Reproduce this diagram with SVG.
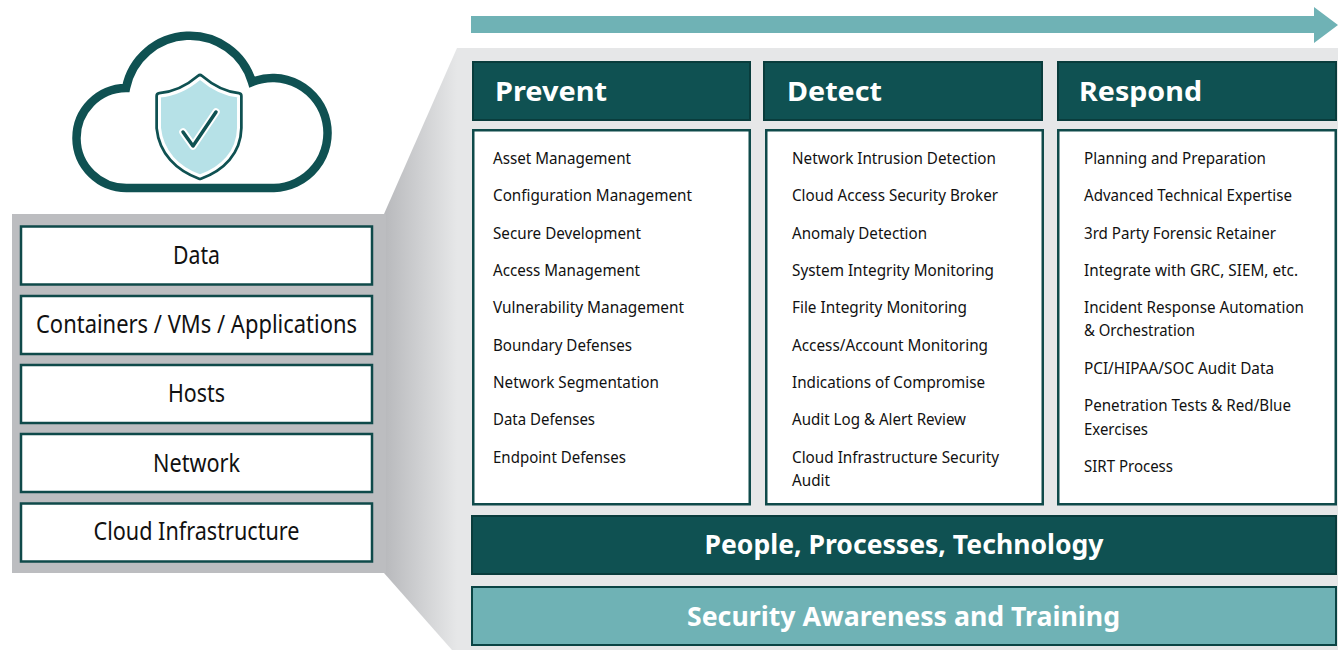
<svg xmlns="http://www.w3.org/2000/svg" width="1338" height="650" viewBox="0 0 1338 650">
<defs>
<linearGradient id="funnel" x1="386" y1="0" x2="457" y2="0" gradientUnits="userSpaceOnUse">
<stop offset="0" stop-color="#b9babd"/>
<stop offset="1" stop-color="#e6e7e8"/>
</linearGradient>
<style>
.dark{fill:#0f5152;stroke:#093c3c;stroke-width:2}
.teal{fill:#6fb2b5;stroke:#0a4444;stroke-width:2}
.box{fill:#ffffff;stroke:#0f4a4a;stroke-width:2.5}
.hdr{font-family:"Noto Sans","Open Sans","Liberation Sans",sans-serif;font-weight:bold;font-size:27px;fill:#ffffff}
.item{font-family:"Noto Sans","Open Sans","Liberation Sans",sans-serif;font-size:17px;fill:#111111}
.layer{font-family:"Noto Sans","Open Sans","Liberation Sans",sans-serif;font-size:26px;fill:#111111}
.bar{font-family:"Noto Sans","Open Sans","Liberation Sans",sans-serif;font-weight:bold;font-size:27px;fill:#ffffff}
</style>
</defs>
<rect width="1338" height="650" fill="#ffffff"/>
<rect x="457" y="48" width="881" height="602" fill="#e6e7e8"/>
<polygon points="384,214 457,48 457,650 452,650 384,573" fill="url(#funnel)"/>
<rect x="12" y="214" width="374" height="359" fill="#bcbdc0"/>

<g id="connectors">
<polygon points="471,16 1314,16 1314,7 1338,25 1314,43 1314,33 471,33" fill="#6fb2b5"/>
</g>

<g id="cloud-icon">
<path d="M127,188 A50,50 0 0 1 126,88 A65,65 0 0 1 252,82 A55,55 0 1 1 274,188 Z" fill="#ffffff" stroke="#0f5152" stroke-width="8.5" stroke-linejoin="miter"/>
<path d="M200,78 C186,90 172,95 159.5,96 L159.5,128 C162,152 178,168 200,176 C222,168 238,152 238.5,128 L238.5,96 C228,95 214,90 200,78 Z" fill="#b6e1e7" stroke="#0f5152" stroke-width="8.5" stroke-linejoin="round"/>
<path d="M200,78 C186,90 172,95 159.5,96 L159.5,128 C162,152 178,168 200,176 C222,168 238,152 238.5,128 L238.5,96 C228,95 214,90 200,78 Z" fill="#b6e1e7" stroke="#ffffff" stroke-width="3" stroke-linejoin="round"/>
<polyline points="183,132 193,146 216,112" fill="none" stroke="#ffffff" stroke-width="7.5" stroke-linecap="round" stroke-linejoin="round"/>
<polyline points="183,132 193,146 216,112" fill="none" stroke="#0f5152" stroke-width="3.5" stroke-linecap="round" stroke-linejoin="round"/>
</g>

<g id="layer-data">
<rect class="box" x="21" y="226.5" width="351" height="58"/>
<text class="layer" x="196.5" y="264" text-anchor="middle" textLength="47" lengthAdjust="spacingAndGlyphs">Data</text>
</g>
<g id="layer-containers">
<rect class="box" x="21" y="296" width="351" height="58"/>
<text class="layer" x="196.5" y="333" text-anchor="middle" textLength="321" lengthAdjust="spacingAndGlyphs">Containers / VMs / Applications</text>
</g>
<g id="layer-hosts">
<rect class="box" x="21" y="365" width="351" height="58"/>
<text class="layer" x="196.5" y="402" text-anchor="middle" textLength="57" lengthAdjust="spacingAndGlyphs">Hosts</text>
</g>
<g id="layer-network">
<rect class="box" x="21" y="434" width="351" height="58"/>
<text class="layer" x="196.5" y="471.5" text-anchor="middle" textLength="87" lengthAdjust="spacingAndGlyphs">Network</text>
</g>
<g id="layer-cloud-infrastructure">
<rect class="box" x="21" y="503.5" width="351" height="58"/>
<text class="layer" x="196.5" y="540" text-anchor="middle" textLength="206" lengthAdjust="spacingAndGlyphs">Cloud Infrastructure</text>
</g>

<g id="prevent">
<rect class="dark" x="473" y="62" width="277" height="58"/>
<text class="hdr" x="495" y="101" textLength="112" lengthAdjust="spacingAndGlyphs">Prevent</text>
<rect class="box" x="473.25" y="130.25" width="276.5" height="374"/>
<text class="item" x="493" y="163.5" textLength="138" lengthAdjust="spacingAndGlyphs">Asset Management</text>
<text class="item" x="493" y="200.5" textLength="199" lengthAdjust="spacingAndGlyphs">Configuration Management</text>
<text class="item" x="493" y="238.5" textLength="148" lengthAdjust="spacingAndGlyphs">Secure Development</text>
<text class="item" x="493" y="275.5" textLength="147" lengthAdjust="spacingAndGlyphs">Access Management</text>
<text class="item" x="493" y="312.5" textLength="191" lengthAdjust="spacingAndGlyphs">Vulnerability Management</text>
<text class="item" x="493" y="350.5" textLength="139" lengthAdjust="spacingAndGlyphs">Boundary Defenses</text>
<text class="item" x="493" y="387.5" textLength="166" lengthAdjust="spacingAndGlyphs">Network Segmentation</text>
<text class="item" x="493" y="424.5" textLength="102" lengthAdjust="spacingAndGlyphs">Data Defenses</text>
<text class="item" x="493" y="462.5" textLength="133" lengthAdjust="spacingAndGlyphs">Endpoint Defenses</text>
</g>

<g id="detect">
<rect class="dark" x="764" y="62" width="278" height="58"/>
<text class="hdr" x="787" y="101" textLength="95" lengthAdjust="spacingAndGlyphs">Detect</text>
<rect class="box" x="766.25" y="130.25" width="276.5" height="374"/>
<text class="item" x="792" y="163.5" textLength="204" lengthAdjust="spacingAndGlyphs">Network Intrusion Detection</text>
<text class="item" x="792" y="200.5" textLength="206" lengthAdjust="spacingAndGlyphs">Cloud Access Security Broker</text>
<text class="item" x="792" y="238.5" textLength="135" lengthAdjust="spacingAndGlyphs">Anomaly Detection</text>
<text class="item" x="792" y="275.5" textLength="202" lengthAdjust="spacingAndGlyphs">System Integrity Monitoring</text>
<text class="item" x="792" y="312.5" textLength="175" lengthAdjust="spacingAndGlyphs">File Integrity Monitoring</text>
<text class="item" x="792" y="350.5" textLength="196" lengthAdjust="spacingAndGlyphs">Access/Account Monitoring</text>
<text class="item" x="792" y="387.5" textLength="193" lengthAdjust="spacingAndGlyphs">Indications of Compromise</text>
<text class="item" x="792" y="424.5" textLength="174" lengthAdjust="spacingAndGlyphs">Audit Log &amp; Alert Review</text>
<text class="item" x="792" y="462.5" textLength="207" lengthAdjust="spacingAndGlyphs">Cloud Infrastructure Security</text>
<text class="item" x="792" y="486" textLength="38" lengthAdjust="spacingAndGlyphs">Audit</text>
</g>

<g id="respond">
<rect class="dark" x="1058" y="62" width="278" height="58"/>
<text class="hdr" x="1079" y="101" textLength="123" lengthAdjust="spacingAndGlyphs">Respond</text>
<rect class="box" x="1058.25" y="130.25" width="277.5" height="374"/>
<text class="item" x="1084" y="163.5" textLength="182" lengthAdjust="spacingAndGlyphs">Planning and Preparation</text>
<text class="item" x="1084" y="200.5" textLength="208" lengthAdjust="spacingAndGlyphs">Advanced Technical Expertise</text>
<text class="item" x="1084" y="238.5" textLength="192" lengthAdjust="spacingAndGlyphs">3rd Party Forensic Retainer</text>
<text class="item" x="1084" y="275.5" textLength="214" lengthAdjust="spacingAndGlyphs">Integrate with GRC, SIEM, etc.</text>
<text class="item" x="1084" y="313" textLength="220" lengthAdjust="spacingAndGlyphs">Incident Response Automation</text>
<text class="item" x="1084" y="336" textLength="111" lengthAdjust="spacingAndGlyphs">&amp; Orchestration</text>
<text class="item" x="1084" y="373.5" textLength="190" lengthAdjust="spacingAndGlyphs">PCI/HIPAA/SOC Audit Data</text>
<text class="item" x="1084" y="411" textLength="207" lengthAdjust="spacingAndGlyphs">Penetration Tests &amp; Red/Blue</text>
<text class="item" x="1084" y="434.5" textLength="64" lengthAdjust="spacingAndGlyphs">Exercises</text>
<text class="item" x="1084" y="472" textLength="89" lengthAdjust="spacingAndGlyphs">SIRT Process</text>
</g>

<g id="people-processes-technology">
<rect class="dark" x="472" y="516" width="864" height="58"/>
<text class="bar" x="904" y="554" text-anchor="middle" textLength="399" lengthAdjust="spacingAndGlyphs">People, Processes, Technology</text>
</g>

<g id="security-awareness-training">
<rect class="teal" x="472" y="587" width="864" height="58"/>
<text class="bar" x="903.5" y="626" text-anchor="middle" textLength="433" lengthAdjust="spacingAndGlyphs">Security Awareness and Training</text>
</g>
</svg>
